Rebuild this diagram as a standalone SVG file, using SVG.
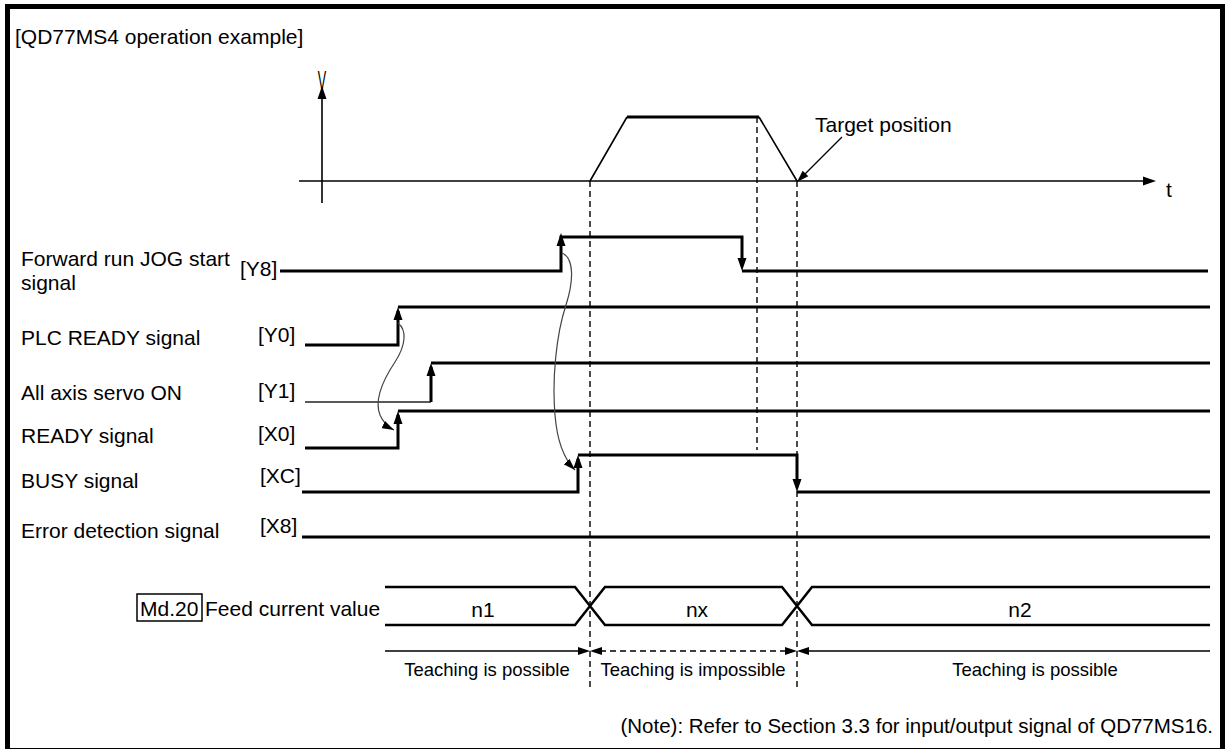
<svg xmlns="http://www.w3.org/2000/svg" xmlns:xlink="http://www.w3.org/1999/xlink" width="1227" height="749" viewBox="0 0 1227 749">
<style>
text{font-family:"Liberation Sans",Arial,sans-serif;fill:#000}
.lb{font-size:21px}
.sm{font-size:18.5px}
.mid{text-anchor:middle}
.sig{fill:none;stroke:#000;stroke-width:3}
.thin{fill:none;stroke:#222;stroke-width:1.5}
.ax{fill:none;stroke:#000;stroke-width:1.6}
.dash{fill:none;stroke:#000;stroke-width:1.4;stroke-dasharray:6 4}
.crv{fill:none;stroke:#444;stroke-width:1.2}
</style>
<defs>
<path id="ah" d="M0,0 L-13,-4.5 L-13,4.5 Z" fill="#000"/>
<path id="ahs" d="M0,0 L-12,-4 L-12,4 Z" fill="#000"/>
<marker id="cm" viewBox="0 0 12 8" refX="12" refY="4" markerWidth="12" markerHeight="8" orient="auto" markerUnits="userSpaceOnUse"><path d="M0,0 L12,4 L0,8 Z" fill="#000"/></marker>
</defs>
<rect x="7.5" y="6.5" width="1215" height="744" fill="#fff" stroke="#000" stroke-width="5"/>
<text class="lb" x="15" y="44">[QD77MS4 operation example]</text>

<g id="axes">
<line class="ax" x1="322" y1="203" x2="322" y2="96"/>
<use xlink:href="#ah" transform="translate(322,86) rotate(-90)"/>
<text font-size="28" transform="translate(322,90) scale(0.45,1)" text-anchor="middle">V</text>
<line class="ax" x1="299" y1="181" x2="1145" y2="181"/>
<use xlink:href="#ah" transform="translate(1156,181)"/>
<text class="lb" x="1166" y="197">t</text>
</g>

<g id="speed-profile">
<path class="ax" d="M590,181 L627,117 M759,117 L797,181"/>
<path class="sig" d="M627,117 H759"/>
</g>

<g id="target-position">
<text class="lb" x="815" y="132">Target position</text>
<line x1="842" y1="137" x2="803" y2="176" stroke="#000" stroke-width="1.2"/>
<use xlink:href="#ahs" transform="translate(797,182) rotate(135)"/>
</g>

<g id="guides">
<line class="dash" x1="590" y1="181" x2="590" y2="690"/>
<line class="dash" x1="757" y1="117" x2="757" y2="450"/>
<line class="dash" x1="797" y1="181" x2="797" y2="690"/>
</g>

<g id="sig-Y8">
<text class="lb" x="21" y="266">Forward run JOG start</text>
<text class="lb" x="21" y="290">signal</text>
<text class="lb" x="240" y="276">[Y8]</text>
<path class="sig" d="M280,271 H561 V237 H742 V262 M742,271 H1208"/>
<use xlink:href="#ah" transform="translate(561,233) rotate(-90)"/>
<use xlink:href="#ah" transform="translate(742,271) rotate(90)"/>
</g>

<g id="sig-Y0">
<text class="lb" x="21" y="345">PLC READY signal</text>
<text class="lb" x="258" y="342">[Y0]</text>
<path class="sig" d="M305,345 H398 V311 M398,307 H1210"/>
<use xlink:href="#ah" transform="translate(398,307) rotate(-90)"/>
</g>

<g id="sig-Y1">
<text class="lb" x="21" y="400">All axis servo ON</text>
<text class="lb" x="258" y="398">[Y1]</text>
<path class="thin" d="M305,402 H431"/>
<path class="sig" d="M431,402 V367 M431,363 H1210"/>
<use xlink:href="#ah" transform="translate(431,363) rotate(-90)"/>
</g>

<g id="sig-X0">
<text class="lb" x="21" y="443">READY signal</text>
<text class="lb" x="258" y="441">[X0]</text>
<path class="sig" d="M305,448 H398 V415 M398,411 H1210"/>
<use xlink:href="#ah" transform="translate(398,411) rotate(-90)"/>
</g>

<g id="sig-XC">
<text class="lb" x="21" y="488">BUSY signal</text>
<text class="lb" x="260" y="483">[XC]</text>
<path class="sig" d="M302,492 H578 V459 M578,455 H797 V483 M797,492 H1210"/>
<use xlink:href="#ah" transform="translate(578,455) rotate(-90)"/>
<use xlink:href="#ah" transform="translate(797,492) rotate(90)"/>
</g>

<g id="sig-X8">
<text class="lb" x="21" y="538">Error detection signal</text>
<text class="lb" x="260" y="533">[X8]</text>
<path class="sig" d="M302,537 H1210"/>
</g>

<g id="connectors">
<path class="crv" marker-end="url(#cm)" d="M398,323 C407,330 406,345 395,362 C383,380 374,400 380,415 C383,422 388,427 394,430"/>
<path class="crv" marker-end="url(#cm)" d="M562,253 C574,258 574,280 566,305 C556,335 552,380 555,415 C557,440 563,458 575,470"/>
</g>

<g id="feed-value">
<rect x="137" y="594" width="65" height="27" fill="none" stroke="#000" stroke-width="1.5"/>
<text class="lb" x="140" y="616">Md.20</text>
<text class="lb" x="205" y="616">Feed current value</text>
<path fill="none" stroke="#000" stroke-width="2.5" d="M385,587 H575 L605,625 H782 L812,587 H1210 M385,625 H575 L605,587 H782 L812,625 H1210"/>
<text class="lb mid" x="483" y="617">n1</text>
<text class="lb mid" x="697" y="617">nx</text>
<text class="lb mid" x="1020" y="617">n2</text>
</g>

<g id="teaching">
<path class="ax" d="M385,651 H580 M807,651 H1210" stroke-width="1.4"/>
<line class="dash" x1="600" y1="651" x2="787" y2="651"/>
<use xlink:href="#ahs" transform="translate(590,651)"/>
<use xlink:href="#ahs" transform="translate(590,651) rotate(180)"/>
<use xlink:href="#ahs" transform="translate(797,651)"/>
<use xlink:href="#ahs" transform="translate(797,651) rotate(180)"/>
<text class="sm mid" x="487" y="676">Teaching is possible</text>
<text class="sm mid" x="693" y="676">Teaching is impossible</text>
<text class="sm mid" x="1035" y="676">Teaching is possible</text>
</g>

<text font-size="20.5" x="1213" y="733" text-anchor="end">(Note): Refer to Section 3.3 for input/output signal of QD77MS16.</text>
</svg>
